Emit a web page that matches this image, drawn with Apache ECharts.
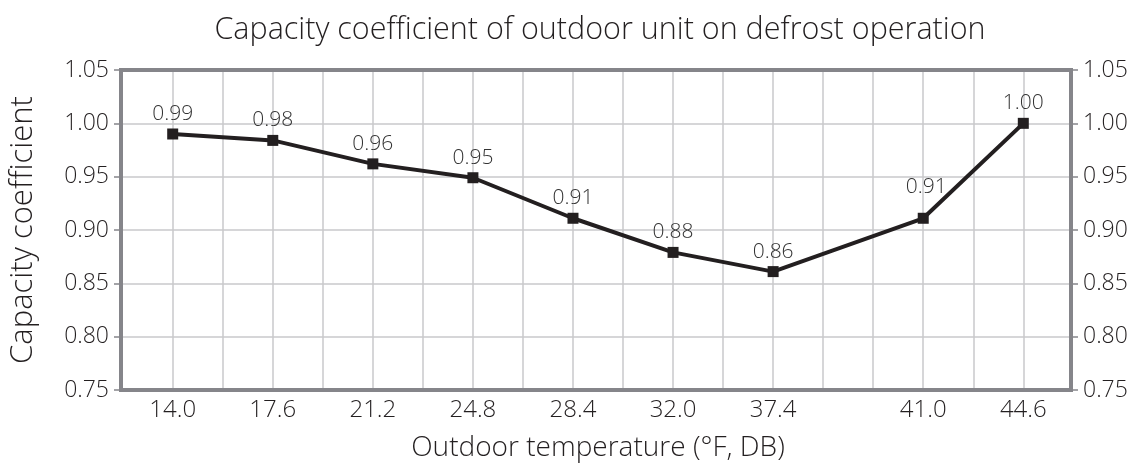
<!DOCTYPE html>
<html>
<head>
<meta charset="utf-8">
<script src="https://cdn.jsdelivr.net/npm/echarts@6/dist/echarts.min.js"></script>
<style>
html,body{margin:0;padding:0;background:#fff;}
#chart{width:1137px;height:472px;}
</style>
</head>
<body>
<div id="chart"></div>
<script>
// ---- data ----
const temperatures = ['14.0', '17.6', '21.2', '24.8', '28.4', '32.0', '37.4', '41.0', '44.6'];
const coefficients = [0.990, 0.984, 0.962, 0.949, 0.911, 0.879, 0.861, 0.911, 1.000];
// x-axis slots as drawn in the reference (blank slots are unlabeled grid columns)
const axisSlots = ['14.0', '', '17.6', '', '21.2', '', '24.8', '', '28.4', '', '32.0', '', '37.4', '', '', '41.0', '', '44.6'];
const yTicks = [0.75, 0.80, 0.85, 0.90, 0.95, 1.00, 1.05];

const FONT = 'Open Sans';
const TXT = '#231f20';
const FRAME = '#85858a';
const GRID = '#c9c9cb';

const seriesData = temperatures.map((t, i) => {
  const item = { value: [axisSlots.indexOf(t), coefficients[i]] };
  if (i === 7) item.label = { offset: [3, -11] };
  return item;
});

const yMin = yTicks[0], yMax = yTicks[yTicks.length - 1], yStep = 0.05;

const chart = echarts.init(document.getElementById('chart'), null, { renderer: 'canvas' });
chart.setOption({
  animation: false,
  backgroundColor: '#fff',
  title: {
    text: 'Capacity coefficient of outdoor unit on defrost operation',
    left: 595,
    textAlign: 'center',
    top: 10,
    textStyle: { fontFamily: FONT, fontWeight: 300, fontSize: 30.5, color: TXT }
  },
  grid: [
    { left: 118, right: 66, top: 70, bottom: 82, show: true, borderColor: FRAME, borderWidth: 4, backgroundColor: 'transparent', z: 5 },
    { left: 172.7, right: 113.7, top: 70, bottom: 82 }
  ],
  xAxis: [
    { gridIndex: 0, type: 'value', min: 0, max: 1, show: false },
    {
      gridIndex: 1, type: 'category', boundaryGap: false, data: axisSlots,
      axisLine: { show: false }, axisTick: { show: false },
      axisLabel: { interval: 0, margin: 8, fontFamily: FONT, fontWeight: 300, fontSize: 24, color: TXT },
      splitLine: { show: true, interval: 0, lineStyle: { color: GRID, width: 1.5 } },
      name: 'Outdoor temperature (°F, DB)', nameLocation: 'middle', nameGap: 44,
      nameTextStyle: { fontFamily: FONT, fontWeight: 300, fontSize: 28, color: TXT }
    }
  ],
  yAxis: [
    {
      gridIndex: 0, type: 'value', position: 'left', min: yMin, max: yMax, interval: yStep,
      axisLine: { show: false },
      axisTick: { show: true, inside: false, length: 7, lineStyle: { color: FRAME, width: 1.5 } },
      axisLabel: { margin: 12, fontFamily: FONT, fontWeight: 300, fontSize: 23, color: TXT, formatter: v => v.toFixed(2) },
      splitLine: { show: true, lineStyle: { color: GRID, width: 1.5 } },
      name: 'Capacity coefficient', nameLocation: 'middle', nameGap: 82, nameRotate: 90,
      nameTextStyle: { fontFamily: FONT, fontWeight: 300, fontSize: 31, color: TXT }
    },
    {
      gridIndex: 0, type: 'value', position: 'right', min: yMin, max: yMax, interval: yStep,
      axisLine: { show: false },
      axisTick: { show: true, inside: false, length: 7, lineStyle: { color: FRAME, width: 1.5 } },
      axisLabel: { margin: 12, fontFamily: FONT, fontWeight: 300, fontSize: 23, color: TXT, formatter: v => v.toFixed(2) },
      splitLine: { show: false }
    },
    { gridIndex: 1, type: 'value', min: yMin, max: yMax, show: false }
  ],
  series: [{
    type: 'line',
    xAxisIndex: 1, yAxisIndex: 2,
    data: seriesData,
    symbol: 'rect', symbolSize: 11,
    lineStyle: { color: TXT, width: 4 },
    itemStyle: { color: TXT },
    z: 10,
    label: {
      show: true, position: 'top', distance: 4,
      fontFamily: FONT, fontWeight: 300, fontSize: 21, color: '#333',
      formatter: p => p.value[1].toFixed(2)
    }
  }]
});
</script>
</body>
</html>
